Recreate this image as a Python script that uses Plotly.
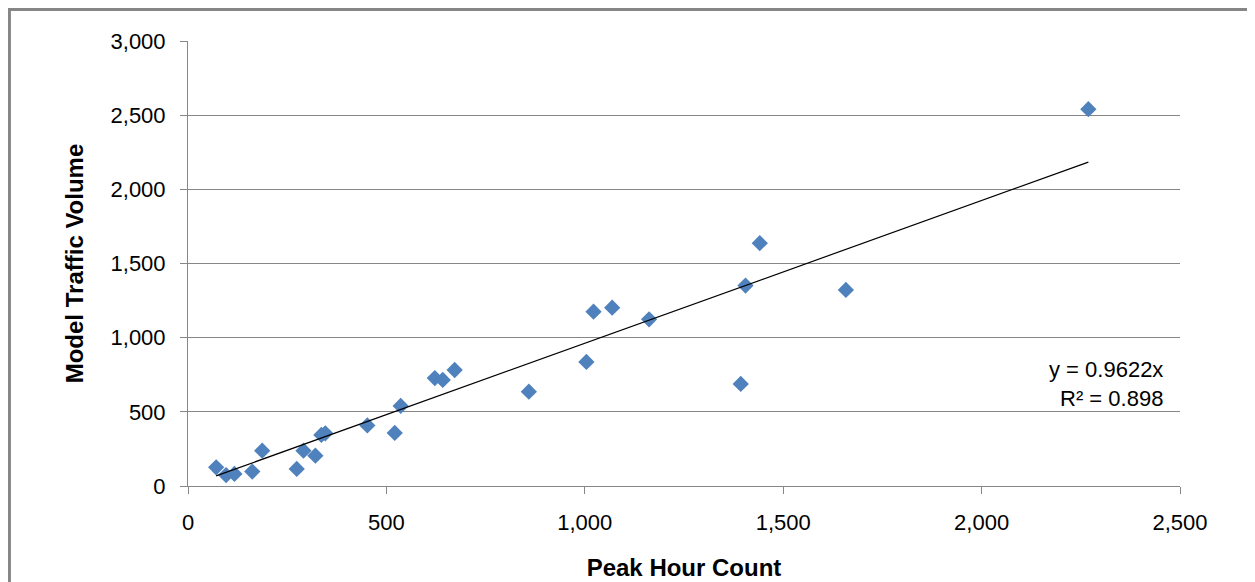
"""Peak hour count vs model traffic volume, with a trendline through the origin."""

import numpy as np
import plotly.graph_objects as go

# Observed peak hour counts and matching model volumes
peak_hour_count = [71, 96, 117, 162, 187, 274, 291, 321, 336, 346, 452, 521, 536,
                   622, 642, 672, 859, 1004, 1022, 1069, 1162, 1393, 1405, 1441,
                   1658, 2269]
model_volume = [126, 74, 81, 97, 238, 115, 238, 204, 344, 355, 408, 358, 540,
                728, 715, 782, 636, 836, 1175, 1202, 1124, 688, 1351, 1637,
                1322, 2540]

# Linear trend forced through zero (as reported on the chart)
slope = 0.9622
r_squared = 0.898

x_ticks = [0, 500, 1000, 1500, 2000, 2500]
y_ticks = [0, 500, 1000, 1500, 2000, 2500, 3000]

FONT = "Liberation Sans, Arial, sans-serif"
GRID = "#878787"

trend_x = np.array([min(peak_hour_count), max(peak_hour_count)])
trend_y = slope * trend_x

fig = go.Figure()

fig.add_trace(go.Scatter(
    x=peak_hour_count,
    y=model_volume,
    mode="markers",
    marker=dict(symbol="diamond", size=12.5, color="#4F81BD"),
    showlegend=False,
))

fig.add_trace(go.Scatter(
    x=trend_x,
    y=trend_y,
    mode="lines",
    line=dict(color="black", width=1.2),
    showlegend=False,
))

fig.add_annotation(
    x=2462, y=690, xref="x", yref="y",
    text=f"y = {slope}x<br>R² = {r_squared}",
    showarrow=False, align="right", xanchor="right", yanchor="middle",
    font=dict(family=FONT, size=22, color="black"),
)

# outer frame of the chart area (top/left edges only show, like a cropped screenshot)
fig.add_shape(
    type="rect", xref="paper", yref="paper",
    x0=-0.18, x1=1.2, y0=-0.3, y1=1.071,
    line=dict(color="#868686", width=3),
)

# page body has an 8px margin, so the figure is sized to fit inside the window
fig.update_layout(
    width=1247,
    height=574,
    paper_bgcolor="white",
    plot_bgcolor="white",
    margin=dict(l=180, r=75, t=33, b=96),
    font=dict(family=FONT, size=22, color="black"),
    xaxis=dict(
        range=[0, 2500],
        tickvals=x_ticks,
        tickformat=",d",
        showgrid=False,
        zeroline=False,
        showline=True,
        linecolor=GRID,
        linewidth=1,
        ticks="outside",
        ticklen=7,
        tickcolor=GRID,
        ticklabelstandoff=10,
        automargin=False,
        title=dict(text="<b>Peak Hour Count</b>", font=dict(size=24), standoff=24),
    ),
    yaxis=dict(
        range=[0, 3000],
        tickvals=y_ticks,
        tickformat=",d",
        showgrid=True,
        gridcolor=GRID,
        gridwidth=1,
        zeroline=False,
        showline=True,
        linecolor=GRID,
        linewidth=1,
        ticks="outside",
        ticklen=7,
        tickcolor=GRID,
        ticklabelstandoff=10,
        automargin=False,
        title=dict(text="<b>Model Traffic Volume</b>", font=dict(size=24), standoff=20),
    ),
)

fig.write_html("out.html")
